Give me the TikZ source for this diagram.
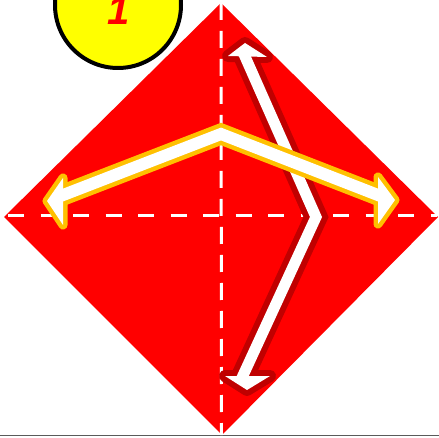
\documentclass[tikz,border=0pt]{standalone}
\usepackage{fontspec}
\newfontfamily\stepfont{Liberation Sans}
\usetikzlibrary{calc}
\definecolor{fsheet}{HTML}{FF0000}
\definecolor{sfold}{HTML}{FFFFFF}
\definecolor{sswing}{HTML}{FFC000}
\definecolor{sturn}{HTML}{C00000}
\definecolor{fbadge}{HTML}{FFFF00}
\definecolor{sbase}{HTML}{5A5A5A}
\begin{document}
\begin{tikzpicture}[x=1pt,y=-1pt,line join=round]
\useasboundingbox (0,0) rectangle (439,438);
\clip (0,0) rectangle (439,438);
\coordinate (top) at (221,3);
\coordinate (right) at (438,217);
\coordinate (bottom) at (222,435);
\coordinate (left) at (4,217);
\draw[draw=sbase,line width=1.5pt] (0,435.5) -- (439,435.5);
\fill[fsheet] (top) -- (right) -- (bottom) -- (left) -- cycle;
\draw[draw=sfold,line width=3pt,dash pattern=on 17pt off 11pt] (top) -- (221.5,435);
\draw[draw=sfold,line width=3pt,dash pattern=on 16pt off 16.5pt] (8,216) -- (437,216);
\coordinate (bT) at (243,52);
\coordinate (bB) at (316,217);
\coordinate (bD) at (240,382);
\draw[draw=sturn,line width=23pt,line join=miter] (bT) -- (bB) -- (bD);
\draw[draw=sturn,line width=12pt] (245,43) -- (228,56) -- (267,57) -- cycle;
\draw[draw=sturn,line width=12pt] (247,390) -- (225,376) -- (270,376) -- cycle;
\draw[draw=white,line width=11pt,line join=miter] (bT) -- (bB) -- (bD);
\fill[white] (245,43) -- (228,56) -- (267,57) -- cycle;
\fill[white] (247,390) -- (225,376) -- (270,376) -- cycle;
\coordinate (aL) at (58,197);
\coordinate (aP) at (221,134);
\coordinate (aR) at (383,197);
\draw[draw=sswing,line width=21pt,line join=miter] (aL) -- (aP) -- (aR);
\draw[draw=sswing,line width=9pt] (47,201) -- (63,178) -- (63,225) -- cycle;
\draw[draw=sswing,line width=9pt] (395,200) -- (378,177) -- (378,224) -- cycle;
\draw[draw=white,line width=12pt,line join=miter] (aL) -- (aP) -- (aR);
\fill[white] (47,201) -- (63,178) -- (63,225) -- cycle;
\fill[white] (395,200) -- (378,177) -- (378,224) -- cycle;
\draw[fill=fbadge,draw=black,line width=4pt] (118,5) circle (63pt);
\node[text=fsheet,font=\stepfont\bfseries\itshape\fontsize{40}{40}\selectfont] (stepnum) at (119,11) {1};
\end{tikzpicture}
\end{document}
